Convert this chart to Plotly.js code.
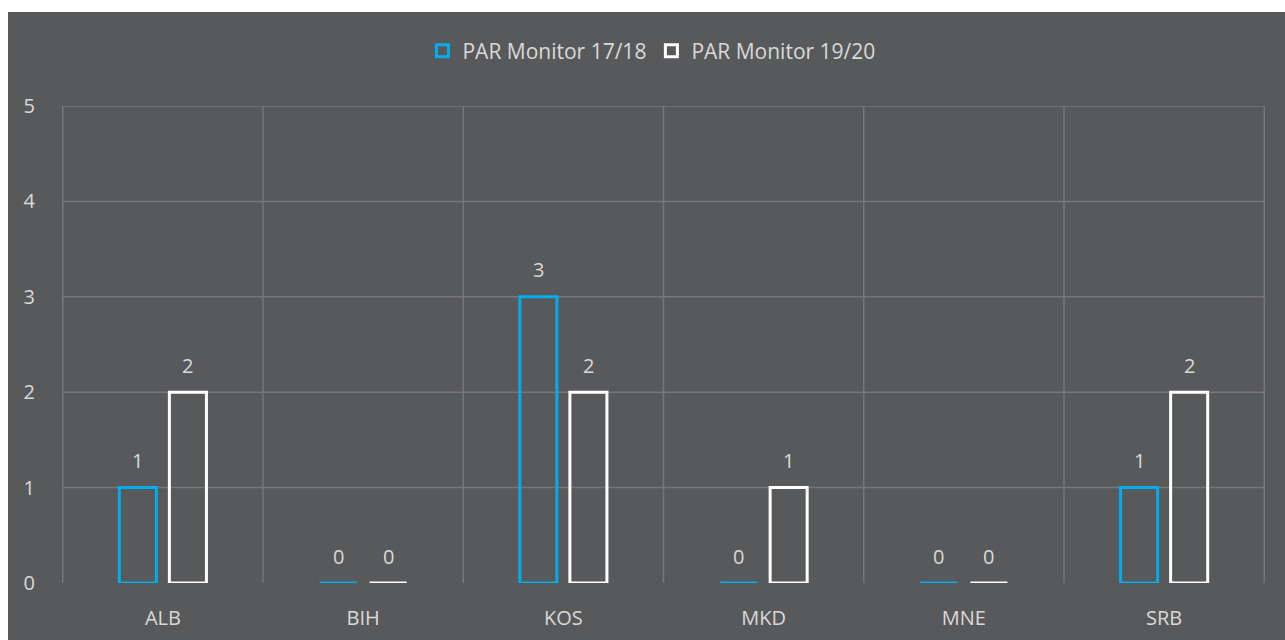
<!DOCTYPE html>
<html><head><meta charset="utf-8">
<script src="https://cdn.plot.ly/plotly-3.0.1.min.js"></script>
<style>
html,body{margin:0;padding:0;background:#ffffff;}
#chart{position:absolute;left:8px;top:12px;width:1277px;height:628px;}
</style></head>
<body><div id="chart"></div>
<script>
const categories = ["ALB","BIH","KOS","MKD","MNE","SRB"];
const series1Name = "PAR Monitor 17/18";
const series2Name = "PAR Monitor 19/20";
const series1 = [1,0,3,0,0,1];
const series2 = [2,0,2,1,0,2];
const yTicks = [0,1,2,3,4,5];

const textColor = "#d9d9d9";
const gridColor = "#76777a";
const font = {family:"Open Sans, sans-serif", size:20, color:textColor};
const legendFont = {family:"Open Sans, sans-serif", size:21, color:textColor};

const traces = [
  {type:"bar", name:series1Name, x:categories, y:series1,
   marker:{color:"rgba(0,0,0,0)", line:{color:"#00AEEF", width:3}}, hoverinfo:"x+y"},
  {type:"bar", name:series2Name, x:categories, y:series2,
   marker:{color:"rgba(0,0,0,0)", line:{color:"#ffffff", width:3}}, hoverinfo:"x+y"}
];

const annotations = [];
categories.forEach((c,i)=>{
  annotations.push({x:c, y:series1[i], xref:"x", yref:"y", text:String(series1[i]), showarrow:false, xshift:-25, yshift:27, font:font});
  annotations.push({x:c, y:series2[i], xref:"x", yref:"y", text:String(series2[i]), showarrow:false, xshift:25, yshift:27, font:font});
});

const vLines = categories.map((c,i)=>i-0.5).concat([categories.length-0.5]);
const shapes = vLines.map(v=>({type:"line", xref:"x", yref:"paper", x0:v, x1:v, y0:0, y1:1, line:{color:gridColor, width:1.5}, layer:"below"}))
  .concat(yTicks.filter(t=>t>0).map(t=>({type:"line", xref:"paper", yref:"y", x0:0, x1:1, y0:t, y1:t, line:{color:gridColor, width:1.5}, layer:"below"})));

const layout = {
  width:1277, height:628,
  paper_bgcolor:"#58595b", plot_bgcolor:"#58595b",
  margin:{l:54, r:20, t:94, b:57},
  barmode:"group", bargap:0.5, bargroupgap:0.26,
  font:font,
  showlegend:true,
  legend:{orientation:"h", x:0.49, xanchor:"center", y:1.115, yanchor:"middle", font:legendFont, itemwidth:30, bgcolor:"rgba(0,0,0,0)"},
  xaxis:{type:"category", showgrid:false, zeroline:false, showline:false,
         ticks:"outside", ticklen:17, tickcolor:"rgba(0,0,0,0)", tickfont:font, fixedrange:true},
  yaxis:{range:[0,5], tickvals:yTicks, showgrid:false,
         zeroline:false, showline:false, ticks:"outside", ticklen:22, tickcolor:"rgba(0,0,0,0)", tickfont:font, fixedrange:true},
  shapes: shapes,
  annotations:annotations
};
Plotly.newPlot("chart", traces, layout, {displayModeBar:false, staticPlot:true});
</script></body></html>
